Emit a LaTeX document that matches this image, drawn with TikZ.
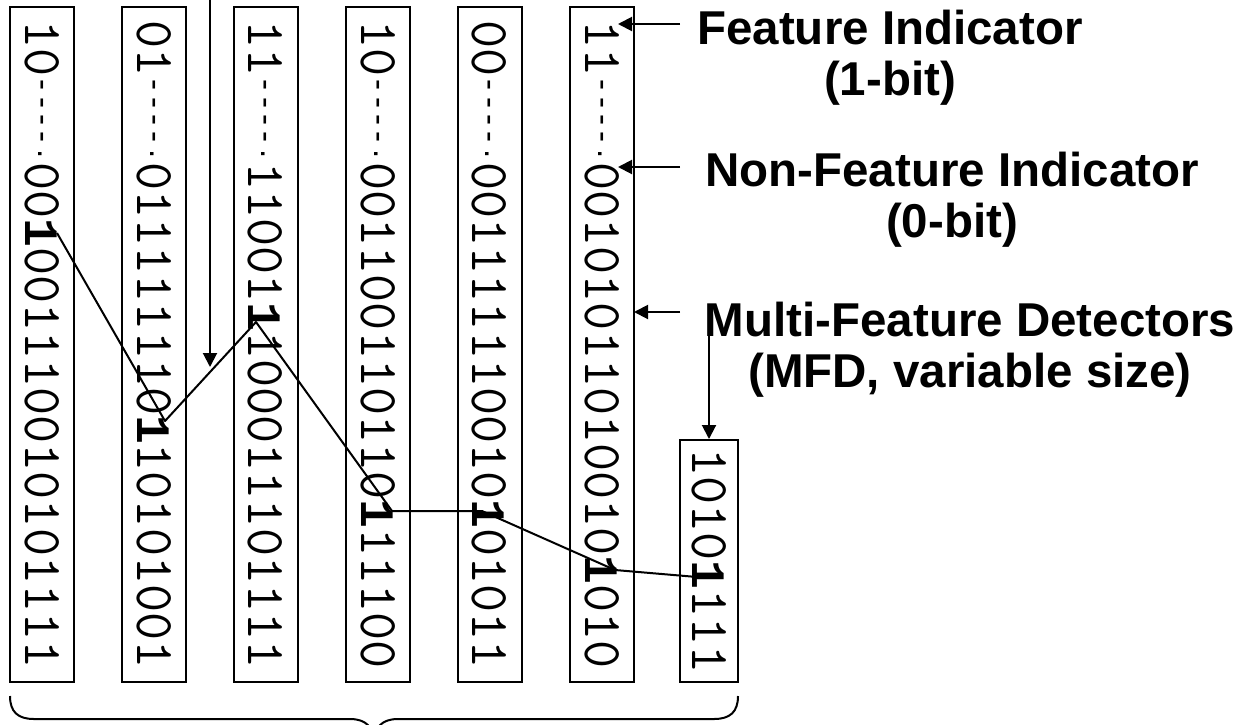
\documentclass[tikz,border=0pt]{standalone}
\usepackage{fontspec}
\newfontfamily\labf{Liberation Sans}
\newfontfamily\bmonof{Liberation Mono}
\usetikzlibrary{arrows.meta}
\newcommand{\onedash}{\makebox[17.16pt][c]{-}}
\newcommand{\dsh}{{\labf\fontsize{33}{33}\selectfont\raisebox{8pt}{\onedash\onedash\onedash\onedash}\makebox[17.16pt][c]{\raisebox{13pt}{.}}}}
\newcommand{\bo}{\makebox[28.6pt][c]{\bmonof\bfseries\fontsize{48}{48}\selectfont 1}}
\tikzset{
  colbox/.style={draw, line width=2pt, rotate=-90, inner sep=0pt,
    minimum width=675pt, minimum height=64pt,
    font=\ttfamily\fontsize{54.5}{54.5}\selectfont},
  lab/.style={align=center, inner sep=0pt,
    font=\labf\bfseries\fontsize{47.5}{51}\selectfont},
  arr/.style={line width=2pt, -{Triangle[length=14pt,width=14pt]}},
  conn/.style={line width=2pt, line join=round}
}
\begin{document}
\begin{tikzpicture}[x=1pt,y=-1pt]
\useasboundingbox[fill=white] (0,0) rectangle (1242,724);
% columns
\node[colbox] (c1) at (42,344.5)    {10\dsh 00\bo 001110010101111};
\node[colbox] (c2) at (154,344.5)   {01\dsh 011111110\bo 10101001};
\node[colbox] (c3) at (265.5,344.5) {11\dsh 11001\bo 100011101111};
\node[colbox] (c4) at (378,344.5)   {10\dsh 001100110110\bo 11100};
\node[colbox] (c5) at (489.5,344.5) {00\dsh 001111110010\bo 01011};
\node[colbox] (c6) at (602,344.5)   {11\dsh 00101011010010\bo 010};
\node[colbox, minimum width=242pt, minimum height=58pt] (c7) at (709,561) {1010\bo 111};
% bold-bit anchor points
\coordinate (b1) at (57,233);
\coordinate (b2) at (165,421);
\coordinate (b3) at (256,322);
\coordinate (b4) at (392,511);
\coordinate (b5) at (482,511);
\coordinate (b6) at (615,570);
\coordinate (b7) at (697,577);
\draw[conn] (b1) -- (b2) -- (b3) -- (b4) -- (b5) -- (b6) -- (b7);
% labels
\node[lab] (fi)  at (890,58)  {Feature Indicator\\(1-bit)};
\node[lab] (nfi) at (952,200) {Non-Feature Indicator\\(0-bit)};
\node[lab] (mfd) at (970,350) {Multi-Feature Detectors\\(MFD, variable size)};
% arrows
\coordinate (fiT) at (680,24);   \coordinate (fiH) at (618,24);
\coordinate (nfT) at (680,167);  \coordinate (nfH) at (618,167);
\coordinate (mfT) at (680,312);  \coordinate (mfH) at (634,312);
\coordinate (mdT) at (709,322);
\coordinate (topT) at (210,-4);  \coordinate (topH) at (210,367);
\draw[arr] (fiT) -- (fiH);
\draw[arr] (nfT) -- (nfH);
\draw[arr] (mfT) -- (mfH);
\draw[arr] (mdT) -- (c7.west);
\draw[arr] (topT) -- (topH);
% brace
\coordinate (brL) at (10,696);
\coordinate (brM) at (374,744);
\coordinate (brR) at (738,696);
\draw[line width=2pt] (brL) .. controls (10,712) and (18,719) .. (34,719) -- (350,719)
  .. controls (366,719) and (374,727) .. (brM)
  .. controls (374,727) and (382,719) .. (398,719) -- (714,719)
  .. controls (730,719) and (738,712) .. (brR);
\end{tikzpicture}
\end{document}
